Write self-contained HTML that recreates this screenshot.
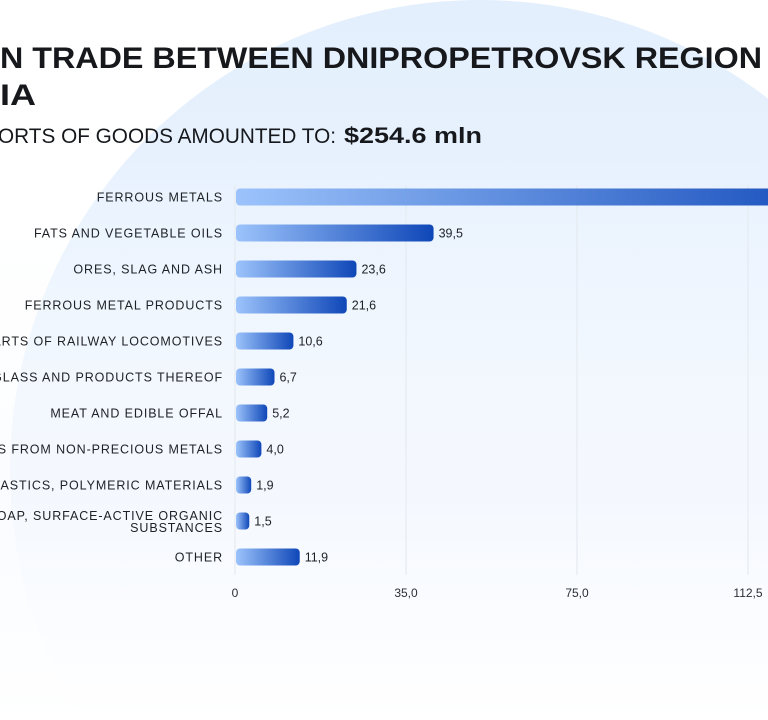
<!DOCTYPE html>
<html><head><meta charset="utf-8"><style>
html,body{margin:0;padding:0;width:768px;height:720px;overflow:hidden;background:#fff}
svg{display:block;font-family:"Liberation Sans",sans-serif;overflow:hidden}
</style></head><body>
<svg width="768" height="720" viewBox="0 0 768 720">
<defs>
<linearGradient id="bg" x1="0" y1="0" x2="0" y2="1">
<stop offset="0" stop-color="#e3effd"/><stop offset="0.45" stop-color="#eef5fe"/><stop offset="1" stop-color="#ffffff"/>
</linearGradient>
<linearGradient id="fade" x1="0" y1="0" x2="0" y2="1">
<stop offset="0" stop-color="#ffffff" stop-opacity="0"/><stop offset="0.6" stop-color="#f7faff" stop-opacity="0.6"/><stop offset="1" stop-color="#ffffff" stop-opacity="1"/>
</linearGradient>
<linearGradient id="bar" x1="0" y1="0" x2="1" y2="0">
<stop offset="0" stop-color="#9cc3fb"/><stop offset="1" stop-color="#0f47b8"/>
</linearGradient>
</defs>
<circle cx="480" cy="470" r="470" fill="url(#bg)"/>
<rect x="0" y="150" width="768" height="570" fill="url(#fade)"/>
<g font-weight="bold" fill="#16181c">
<text x="0" y="68" font-size="30" textLength="762" lengthAdjust="spacingAndGlyphs">N TRADE BETWEEN DNIPROPETROVSK REGION</text>
<text x="0" y="105" font-size="30" textLength="36" lengthAdjust="spacingAndGlyphs">IA</text>
</g>
<g fill="#16181c">
<text x="-2" y="143" font-size="21" textLength="338" lengthAdjust="spacingAndGlyphs">ORTS OF GOODS AMOUNTED TO:</text>
<text x="344" y="143" font-size="22" font-weight="bold" textLength="138" lengthAdjust="spacingAndGlyphs">$254.6 mln</text>
</g>
<g id="grid"></g>
<g id="bars"></g>
<g id="labels"></g>
<g id="ticks"></g>
</svg>
<script>
const categories=["FERROUS METALS","FATS AND VEGETABLE OILS","ORES, SLAG AND ASH","FERROUS METAL PRODUCTS","PARTS OF RAILWAY LOCOMOTIVES","GLASS AND PRODUCTS THEREOF","MEAT AND EDIBLE OFFAL","ARTICLES FROM NON-PRECIOUS METALS","PLASTICS, POLYMERIC MATERIALS","SOAP, SURFACE-ACTIVE ORGANIC|SUBSTANCES","OTHER"];
const values=[128.1,39.5,23.6,21.6,10.6,6.7,5.2,4.0,1.9,1.5,11.9];
const valueLabels=["128,1","39,5","23,6","21,6","10,6","6,7","5,2","4,0","1,9","1,5","11,9"];
const tickLabels=["0","35,0","75,0","112,5"];
const NS="http://www.w3.org/2000/svg";
const x0=236, pxPerUnit=4.85, minW=6, y0=197, rowH=36, barH=17, tickStep=171;
function xScale(v){return x0+minW+v*pxPerUnit;}
function yScale(i){return y0+i*rowH;}
function mk(t,a,p){const e=document.createElementNS(NS,t);for(const k in a)e.setAttribute(k,a[k]);document.getElementById(p).appendChild(e);return e;}
tickLabels.forEach((t,i)=>{
  const x=235+i*tickStep;
  const l=mk("line",{x1:x,x2:x,y1:185,y2:575,stroke:"#e3e8ef","stroke-width":1},"grid");
  
  
  const tx=mk("text",{x:x,y:597,"font-size":12,fill:"#2a2d33","text-anchor":"middle"},"ticks");
  tx.textContent=t;
  
  
});
categories.forEach((c,i)=>{
  const y=yScale(i);
  const w=xScale(values[i])-x0;
  const r=mk("rect",{x:x0,y:y-barH/2,width:w,height:barH,rx:4,fill:"url(#bar)"},"bars");
  
  
  const v=mk("text",{x:x0+w+5,y:y+4.5,"font-size":12.5,fill:"#1e2126"},"bars");
  v.textContent=valueLabels[i];
  
  
  const parts=c.split("|");
  parts.forEach((p,j)=>{
    const ty=parts.length>1?y-1+j*12:y+4.5;
    const t=mk("text",{x:223,y:ty,"font-size":12.5,fill:"#1e2126","text-anchor":"end","letter-spacing":"0.9"},"labels");
    t.textContent=p;
    
    
  });
});
</script>
</body></html>
